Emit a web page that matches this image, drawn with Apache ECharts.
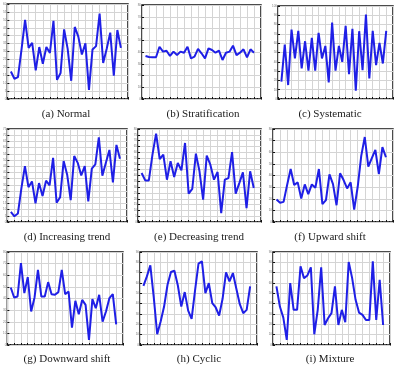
<!DOCTYPE html>
<html>
<head>
<meta charset="utf-8">
<script src="https://cdn.jsdelivr.net/npm/echarts@6/dist/echarts.min.js"></script>
<style>
  html, body { margin: 0; padding: 0; background: #fff; }
  #chart { width: 398px; height: 367px; }
</style>
</head>
<body>
<div id="chart"></div>
<script>
// sample number on the x axis
const sampleIndex = [1, 2, 3, 4, 5, 6, 7, 8, 9, 10, 11, 12, 13, 14, 15, 16,
  17, 18, 19, 20, 21, 22, 23, 24, 25, 26, 27, 28, 29, 30, 31, 32]

// one array per pattern
const normal = [17.4, 12.8, 13.8, 31.3, 50.0, 32.3, 35.5, 18.1, 32.8, 22.3, 32.8, 29.1, 49.4, 12.1, 16.4, 44.0,
  31.7, 11.5, 45.5, 39.4, 28.1, 35.1, 5.7, 31.3, 33.4, 54.0, 22.8, 31.7, 41.9, 14.7, 43.6, 32.3]
const stratification = [36.6, 35.7, 35.5, 35.5, 44.5, 40.3, 41.1, 36.6, 40.3, 37.4, 40.3, 39.4, 44.5, 34.6, 36.0, 42.6,
  38.9, 34.6, 43.1, 41.7, 39.4, 41.1, 33.2, 39.4, 40.3, 45.4, 37.4, 39.4, 42.3, 35.5, 42.3, 39.4]
const systematic = [18.6, 58.6, 15.0, 74.6, 43.6, 73.2, 32.9, 62.1, 30.4, 65.7, 30.4, 71.1, 43.6, 57.1, 17.9, 82.1,
  30.4, 57.1, 40.0, 78.6, 26.8, 75.4, 8.9, 72.9, 31.1, 90.7, 22.1, 73.2, 36.4, 60.4, 38.2, 73.2]
const increasingTrend = [8.2, 4.6, 6.8, 27.3, 45.0, 28.1, 32.7, 15.0, 31.4, 21.0, 33.3, 29.5, 51.8, 15.5, 19.9, 49.1,
  38.2, 17.7, 53.2, 47.7, 37.6, 45.0, 16.6, 43.1, 46.4, 68.2, 37.4, 47.7, 58.1, 31.9, 62.2, 51.0]
const decreasingTrend = [42.2, 35.8, 35.8, 57.9, 76.0, 54.2, 57.9, 36.4, 52.2, 38.7, 50.8, 44.4, 68.0, 24.4, 28.4, 58.8,
  43.6, 19.2, 57.1, 49.3, 36.4, 43.0, 7.7, 36.4, 37.8, 60.2, 24.4, 33.5, 42.7, 12.0, 43.6, 29.2]
const upwardShift = [19.4, 16.5, 17.3, 31.8, 45.6, 31.8, 34.1, 20.2, 32.3, 24.0, 32.3, 29.5, 45.6, 15.3, 18.8, 41.0,
  32.6, 14.4, 41.9, 36.1, 28.9, 34.1, 10.7, 30.3, 56.9, 73.1, 47.7, 54.9, 62.1, 41.3, 64.4, 55.7]
const downwardShift = [49.5, 40.9, 41.7, 70.5, 44.6, 58.4, 28.8, 40.9, 64.7, 41.7, 41.7, 54.1, 43.7, 43.2, 45.5, 64.7,
  43.7, 46.0, 15.0, 38.0, 26.5, 38.8, 34.5, 4.3, 39.4, 31.7, 43.2, 20.1, 28.8, 40.3, 43.7, 17.8]
const cyclic = [57.3, 66.4, 77.1, 46.0, 10.4, 22.7, 37.2, 58.3, 70.6, 71.9, 57.6, 37.2, 51.2, 33.3, 25.3, 52.8,
  78.7, 80.9, 50.2, 59.9, 40.5, 36.3, 28.5, 44.7, 70.3, 61.5, 69.6, 54.4, 39.5, 30.8, 34.0, 56.7]
const mixture = [56.7, 37.2, 26.5, 4.9, 59.9, 34.0, 34.0, 76.1, 64.7, 67.3, 75.1, 10.4, 34.0, 75.1, 19.4, 25.9,
  30.8, 56.7, 19.4, 34.0, 22.0, 80.3, 64.7, 43.7, 31.4, 29.1, 24.3, 24.3, 80.9, 24.3, 63.1, 19.4]

const captions = ['(a) Normal', '(b) Stratification', '(c) Systematic',
  '(d) Increasing trend', '(e) Decreasing trend', '(f) Upward shift',
  '(g) Downward shift', '(h) Cyclic', '(i) Mixture']

// panel boxes and y scales
const panels = [
  { data: normal, left: 5, top: 4, right: 128, bottom: 99, yMax: 60, yStep: 5, cx: 66, cy: 115 },
  { data: stratification, left: 142, top: 5, right: 261, bottom: 99, yMax: 80, yStep: 10, cx: 203, cy: 115 },
  { data: systematic, left: 278, top: 6, right: 393, bottom: 99, yMax: 100, yStep: 10, cx: 330, cy: 115 },
  { data: increasingTrend, left: 7, top: 129, right: 127, bottom: 222, yMax: 75, yStep: 5, cx: 67, cy: 238 },
  { data: decreasingTrend, left: 138, top: 129, right: 261, bottom: 222, yMax: 80, yStep: 5, cx: 199, cy: 238 },
  { data: upwardShift, left: 273, top: 129, right: 393, bottom: 222, yMax: 80, yStep: 10, cx: 330, cy: 238 },
  { data: downwardShift, left: 5, top: 252, right: 123, bottom: 345, yMax: 80, yStep: 10, cx: 67, cy: 360 },
  { data: cyclic, left: 140, top: 252, right: 257, bottom: 345, yMax: 90, yStep: 10, cx: 199, cy: 360 },
  { data: mixture, left: 273, top: 252, right: 390, bottom: 345, yMax: 90, yStep: 10, cx: 330, cy: 360 }
]

const W = 398
const H = 367

const grid = []
const xAxis = []
const yAxis = []
const series = []
const title = []

panels.forEach((p, i) => {
  grid.push({
    left: p.left,
    top: p.top,
    width: p.right - p.left,
    height: p.bottom - p.top,
    show: true,
    borderColor: '#111',
    borderWidth: 1.5,
    backgroundColor: '#fff'
  })
  xAxis.push({
    type: 'value',
    gridIndex: i,
    min: 0,
    max: 34,
    interval: 2,
    axisLine: { show: false },
    axisTick: { show: true, inside: true, length: 2, lineStyle: { color: '#111' } },
    minorTick: { show: true, splitNumber: 2, length: 1, lineStyle: { color: '#111' } },
    axisLabel: { show: false },
    splitLine: { show: true, lineStyle: { color: '#d4d4d4', width: 1 } }
  })
  yAxis.push({
    type: 'value',
    gridIndex: i,
    min: 0,
    max: p.yMax,
    interval: p.yStep,
    axisLine: { show: false },
    axisTick: { show: true, inside: true, length: 2, lineStyle: { color: '#111' } },
    axisLabel: { show: true, fontSize: 3, color: '#777', margin: 1 },
    splitLine: { show: true, lineStyle: { color: '#d4d4d4', width: 1 } }
  })
  series.push({
    type: 'line',
    xAxisIndex: i,
    yAxisIndex: i,
    data: sampleIndex.map((x, k) => [x, p.data[k]]),
    symbol: 'none',
    silent: true,
    lineStyle: { color: '#1f1fe6', width: 2 }
  })
  title.push({
    text: captions[i],
    left: p.cx,
    top: p.cy - 6,
    padding: 0,
    textAlign: 'center',
    textStyle: {
      fontFamily: 'Liberation Serif',
      fontSize: 11,
      fontWeight: 'normal',
      color: '#1a1a1a'
    }
  })
})

const chart = echarts.init(document.getElementById('chart'), null, { renderer: 'canvas', width: W, height: H })
chart.setOption({
  backgroundColor: '#fff',
  animation: false,
  title,
  grid,
  xAxis,
  yAxis,
  series
})
</script>
</body>
</html>
